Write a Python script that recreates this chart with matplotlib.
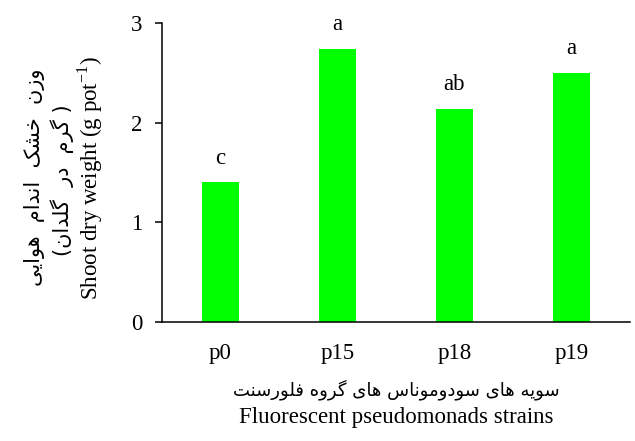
import matplotlib
matplotlib.use("Agg")
import matplotlib.pyplot as plt

strains = ["p0", "p15", "p18", "p19"]
weights = [1.40, 2.74, 2.14, 2.50]
letters = ["c", "a", "ab", "a"]

ylabel_fa_1 = "وزن خشک اندام هوایی"
ylabel_fa_2 = "(گرم در گلدان)"
ylabel_en = r"Shoot dry weight (g pot$^{\mathregular{-1}}$)"
xlabel_fa = "سویه های سودوموناس های گروه فلورسنت"
xlabel_en = "Fluorescent pseudomonads strains"

# matplotlib has no arabic shaping, so shape + reorder by hand
FORMS = {
    "ا": ("\uFE8D", "\uFE8E", None, None),
    "د": ("\uFEA9", "\uFEAA", None, None),
    "ر": ("\uFEAD", "\uFEAE", None, None),
    "ز": ("\uFEAF", "\uFEB0", None, None),
    "و": ("\uFEED", "\uFEEE", None, None),
    "ت": ("\uFE95", "\uFE96", "\uFE97", "\uFE98"),
    "خ": ("\uFEA5", "\uFEA6", "\uFEA7", "\uFEA8"),
    "س": ("\uFEB1", "\uFEB2", "\uFEB3", "\uFEB4"),
    "ش": ("\uFEB5", "\uFEB6", "\uFEB7", "\uFEB8"),
    "ف": ("\uFED1", "\uFED2", "\uFED3", "\uFED4"),
    "ل": ("\uFEDD", "\uFEDE", "\uFEDF", "\uFEE0"),
    "م": ("\uFEE1", "\uFEE2", "\uFEE3", "\uFEE4"),
    "ن": ("\uFEE5", "\uFEE6", "\uFEE7", "\uFEE8"),
    "ه": ("\uFEE9", "\uFEEA", "\uFEEB", "\uFEEC"),
    "ک": ("\uFB8E", "\uFB8F", "\uFB90", "\uFB91"),
    "گ": ("\uFB92", "\uFB93", "\uFB94", "\uFB95"),
    "ی": ("\uFBFC", "\uFBFD", "\uFBFE", "\uFBFF"),
}


def shape_word(word):
    out = []
    for i, ch in enumerate(word):
        if ch not in FORMS:
            out.append(ch)
            continue
        prev = word[i - 1] if i > 0 else None
        nxt = word[i + 1] if i + 1 < len(word) else None
        join_prev = prev in FORMS and FORMS[prev][2] is not None
        join_next = nxt in FORMS and FORMS[ch][2] is not None
        iso, fin, ini, med = FORMS[ch]
        if join_prev and join_next:
            out.append(med)
        elif join_prev:
            out.append(fin)
        elif join_next:
            out.append(ini)
        else:
            out.append(iso)
    return "".join(out)


def farsi(text, gap=" "):
    words = [shape_word(w)[::-1] for w in text.split(" ")]
    return gap.join(words[::-1])


plt.rcParams["font.family"] = ["Liberation Serif", "DejaVu Sans"]
plt.rcParams["mathtext.fontset"] = "custom"
plt.rcParams["mathtext.rm"] = "Liberation Serif"
plt.rcParams["font.size"] = 16.5

fig = plt.figure(figsize=(6.35, 4.41), dpi=100)
ax = fig.add_axes([0.255, 0.270, 0.737, 0.678])

x = range(len(strains))
ax.bar(x, weights, width=0.31, color="#00ff00")
for xi, v, s in zip(x, weights, letters):
    ax.text(xi, v + 0.24, s, ha="center", va="center")

ax.set_xlim(-0.5, 3.5)
ax.set_ylim(0, 3)
ax.set_yticks([0, 1, 2, 3])
ax.set_xticks(list(x))
ax.set_xticklabels(strains)
ax.tick_params(axis="x", length=0, pad=15)
ax.tick_params(axis="y", length=5, width=1.1, direction="out", pad=9)
for side in ["top", "right"]:
    ax.spines[side].set_visible(False)
for side in ["left", "bottom"]:
    ax.spines[side].set_linewidth(1.1)

fig.text(35 / 635, 1 - 177 / 441, farsi(ylabel_fa_1, "  "), rotation=90, ha="center", va="center",
         family=["DejaVu Sans"], fontsize=15)
fig.text(62 / 635, 1 - 180 / 441, "(" + farsi(ylabel_fa_2[1:-1], "  ") + " )", rotation=90,
         ha="center", va="center", family=["DejaVu Sans"], fontsize=15)
fig.text(90 / 635, 1 - 178 / 441, ylabel_en, rotation=90, ha="center", va="center")
fig.text(0.5 * (162 + 630) / 635, 1 - 390 / 441, farsi(xlabel_fa), ha="center", va="center",
         family=["DejaVu Sans"], fontsize=13)
fig.text(0.5 * (162 + 630) / 635, 1 - 418 / 441, xlabel_en, ha="center", va="center")

fig.savefig("out.png", dpi=100)
